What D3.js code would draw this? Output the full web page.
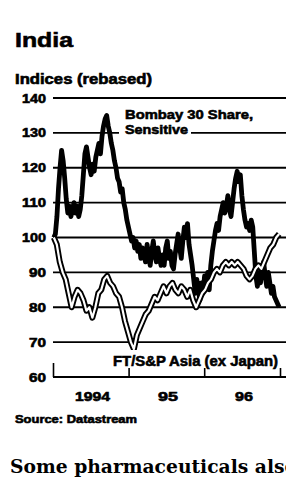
<!DOCTYPE html>
<html>
<head>
<meta charset="utf-8">
<script src="https://cdn.jsdelivr.net/npm/d3@7"></script>
<style>
html,body{margin:0;padding:0;background:#fff;overflow:hidden;}
svg{display:block;}
</style>
</head>
<body>
<script>
// ---- data ----
const yTicks = [60, 70, 80, 90, 100, 110, 120, 130, 140];
const yearLabels = ["1994", "95", "96"];
const yearStarts = ["1994-01-01", "1995-01-01", "1996-01-01", "1997-01-01"];
const seriesNames = ["Bombay 30 Share, Sensitive", "FT/S&P Asia (ex Japan)"];
// weekly readings
const bombay = [100,101,106,114,120,125,122,
  117,111,107,109,106,108,110,
  107,109,106,108,112,118,124,
  126,123,120,118,121,119,123,
  125,127,124,129,132,134,135,
  132,130,127,125,122,120,117,
  116,113,114,110,108,105,103,
  101,99,100,97,99,96,98,
  94,97,95,93,98,95,92,
  96,99,95,93,97,94,92,
  95,92,97,99,94,96,92,
  91,95,98,101,97,94,99,
  103,100,104,98,95,92,88,
  84,88,85,82,87,84,89,
  86,90,85,92,96,99,102,
  104,102,106,108,110,107,109,
  112,108,106,110,114,117,119,
  116,118,112,108,105,103,104,
  102,105,103,96,89,86,90,
  87,91,93,89,86,90,87,
  84,86,83,82,81,80];
// fortnightly readings
const ftAsia = [100,98,93,90,88,84,80,83,85,84,82,79,80,77,80,84,85,88,89,87,
  86,84,83,80,76,73,70,68,72,74,76,78,79,81,83,82,84,86,84,86,
  87,85,84,86,85,83,85,82,80,82,84,85,87,88,90,91,90,92,93,92,
  93,92,93,92,91,89,88,89,91,92,91,93,95,97,98,100,101];
const firstDate = "1994-01-05";
const lastDate = "1996-12-28";

// ---- layout ----
const W = 286, H = 481;
const svg = d3.select("body").append("svg").attr("width", W).attr("height", H);
svg.append("rect").attr("width", W).attr("height", H).attr("fill", "#fff");

const parse = d3.timeParse("%Y-%m-%d");
const sampleDates = n => {
  const a = parse(firstDate).getTime(), b = parse(lastDate).getTime();
  return d3.range(n).map(i => new Date(a + (b - a) * i / (n - 1)));
};
const bDates = sampleDates(bombay.length);
const fDates = sampleDates(ftAsia.length);

const x = d3.scaleTime().domain([parse(yearStarts[0]), parse(yearStarts[3])]).range([53, 280]);
const y = d3.scaleLinear().domain([60, 140]).range([377, 98]);

const font = "'Liberation Sans', Arial, sans-serif";

function txt(s, xx, yy, size, len, anchor) {
  const t = svg.append("text").attr("x", xx).attr("y", yy).text(s)
    .attr("font-family", font).attr("font-weight", "bold").attr("font-size", size)
    .attr("fill", "#000").attr("stroke", "#000").attr("stroke-width", 0.6)
    .attr("text-anchor", anchor || "start");
  if (len) t.attr("textLength", len).attr("lengthAdjust", "spacingAndGlyphs");
  return t;
}

// title
txt("India", 15, 47, 21, 58);
txt("Indices (rebased)", 15, 84, 14, 137);

// gridlines
svg.append("g").selectAll("line").data(yTicks.filter(d => d > 60)).join("line")
  .attr("x1", 53).attr("x2", W).attr("y1", d => y(d)).attr("y2", d => y(d))
  .attr("stroke", "#000").attr("stroke-width", 1.8);

// y labels
yTicks.forEach(v => {
  txt(String(v), 46, y(v) + 4.5, 12.5, String(v).length === 3 ? 24 : 17, "end");
});

// baseline axis with upward ticks
const xAxis = d3.axisTop(x).tickValues(yearStarts.map(parse)).tickSize(14).tickFormat("");
const axG = svg.append("g").attr("transform", `translate(0,${y(60)})`).call(xAxis);
axG.select(".domain").remove();
axG.selectAll("line").attr("stroke", "#000").attr("stroke-width", 1.6);
svg.append("line").attr("x1", 53).attr("x2", W).attr("y1", y(60)).attr("y2", y(60))
  .attr("stroke", "#000").attr("stroke-width", 2.2);

// label backgrounds
svg.append("rect").attr("x", 119).attr("y", 105).attr("width", 140).attr("height", 16).attr("fill", "#fff");
svg.append("rect").attr("x", 119).attr("y", 121).attr("width", 72).attr("height", 16).attr("fill", "#fff");

// lines
const lineGen = (vals, ds) => d3.line().x((d, i) => x(ds[i])).y(d => y(d))(vals);
svg.append("path").attr("d", lineGen(bombay, bDates)).attr("fill", "none")
  .attr("stroke", "#000").attr("stroke-width", 4.8).attr("stroke-linejoin", "round");
svg.append("path").attr("d", lineGen(ftAsia, fDates)).attr("fill", "none")
  .attr("stroke", "#000").attr("stroke-width", 6).attr("stroke-linejoin", "round");
svg.append("path").attr("d", lineGen(ftAsia, fDates)).attr("fill", "none")
  .attr("stroke", "#fff").attr("stroke-width", 2.2).attr("stroke-linejoin", "round");

// series labels
txt("Bombay 30 Share,", 125, 119, 13, 128);
txt("Sensitive", 125, 134, 13, 63);
svg.append("rect").attr("x", 110).attr("y", 350).attr("width", 172).attr("height", 18).attr("fill", "#fff");
txt(seriesNames[1], 113, 366, 14, 165);

// year labels
const yearPos = [[75, 35], [158, 20], [235, 18]];
yearLabels.forEach((s, i) => txt(s, yearPos[i][0], 401, 13, yearPos[i][1]));

// source
txt("Source: Datastream", 15, 423, 11, 122);

// body text
svg.append("text").attr("x", 10).attr("y", 473).text("Some pharmaceuticals also")
  .attr("font-family", "'DejaVu Serif', serif").attr("font-weight", "bold").attr("font-size", 18)
  .attr("fill", "#000").attr("textLength", 287).attr("lengthAdjust", "spacingAndGlyphs");
</script>
</body>
</html>
